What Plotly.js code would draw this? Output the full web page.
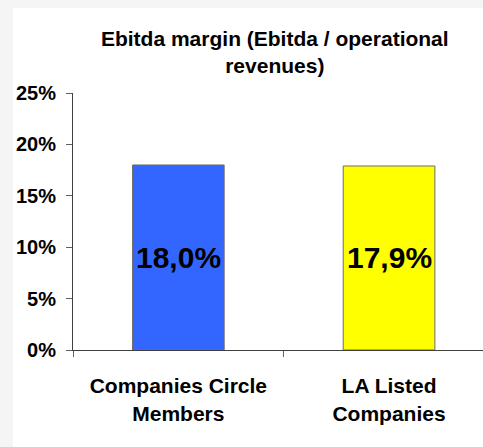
<!DOCTYPE html>
<html>
<head>
<meta charset="utf-8">
<script src="https://cdn.plot.ly/plotly-3.0.1.min.js"></script>
<style>
  html, body { margin: 0; padding: 0; background: #f5f5f5; width: 483px; height: 447px; overflow: hidden; }
  #chart { position: absolute; left: 13px; top: 8px; width: 470px; height: 439px; background: #ffffff; }
</style>
</head>
<body>
<div id="chart"></div>
<script>
const titleText = "<b>Ebitda margin (Ebitda / operational<br>revenues)</b>";
const categories = ["<b>Companies Circle<br>Members</b>", "<b>LA Listed<br>Companies</b>"];
const values = [0.180, 0.179];
const barColors = ["#3366FF", "#FFFF00"];
const yTicks = [0, 0.05, 0.10, 0.15, 0.20, 0.25];

const font = "Liberation Sans, Arial, sans-serif";

const trace = {
  type: "bar",
  x: categories,
  y: values,
  width: 0.435,
  marker: { color: barColors, line: { color: "#6e6e6e", width: 1 } },
  hoverinfo: "none"
};

const labelAnnotations = categories.map((c, i) => ({
  xref: "x",
  yref: "y",
  x: c,
  y: values[i] / 2,
  text: "<b>" + (values[i] * 100).toFixed(1).replace(".", ",") + "%</b>",
  showarrow: false,
  xanchor: "center",
  yanchor: "middle",
  font: { family: font, size: 30, color: "#000000" }
}));

const layout = {
  width: 470,
  height: 439,
  margin: { l: 60, r: 0, t: 85, b: 97, pad: 0 },
  paper_bgcolor: "#ffffff",
  plot_bgcolor: "#ffffff",
  separators: ",.",
  showlegend: false,
  annotations: labelAnnotations,
  title: {
    text: titleText,
    font: { family: font, size: 21, color: "#000000" },
    xref: "container",
    x: 0.557,
    xanchor: "center",
    yref: "container",
    y: 0.913,
    yanchor: "top"
  },
  xaxis: {
    type: "category",
    range: [-0.5, 1.446],
    showline: true,
    linecolor: "#404040",
    linewidth: 1,
    ticks: "outside",
    tickson: "boundaries",
    ticklen: 6,
    tickcolor: "#606060",
    tickwidth: 1,
    showgrid: false,
    zeroline: false,
    ticklabelstandoff: 17,
    tickfont: { family: font, size: 21, color: "#000000" },
    fixedrange: true
  },
  yaxis: {
    range: [0, 0.25],
    tickvals: yTicks,
    tickformat: ".0%",
    showline: true,
    linecolor: "#404040",
    linewidth: 1,
    ticks: "outside",
    ticklen: 6,
    tickcolor: "#606060",
    tickwidth: 1,
    showgrid: false,
    zeroline: false,
    ticklabelstandoff: 6,
    tickfont: { family: font, size: 20, color: "#000000", weight: "bold" },
    fixedrange: true
  }
};

Plotly.newPlot("chart", [trace], layout, { displayModeBar: false, staticPlot: true });
</script>
</body>
</html>
